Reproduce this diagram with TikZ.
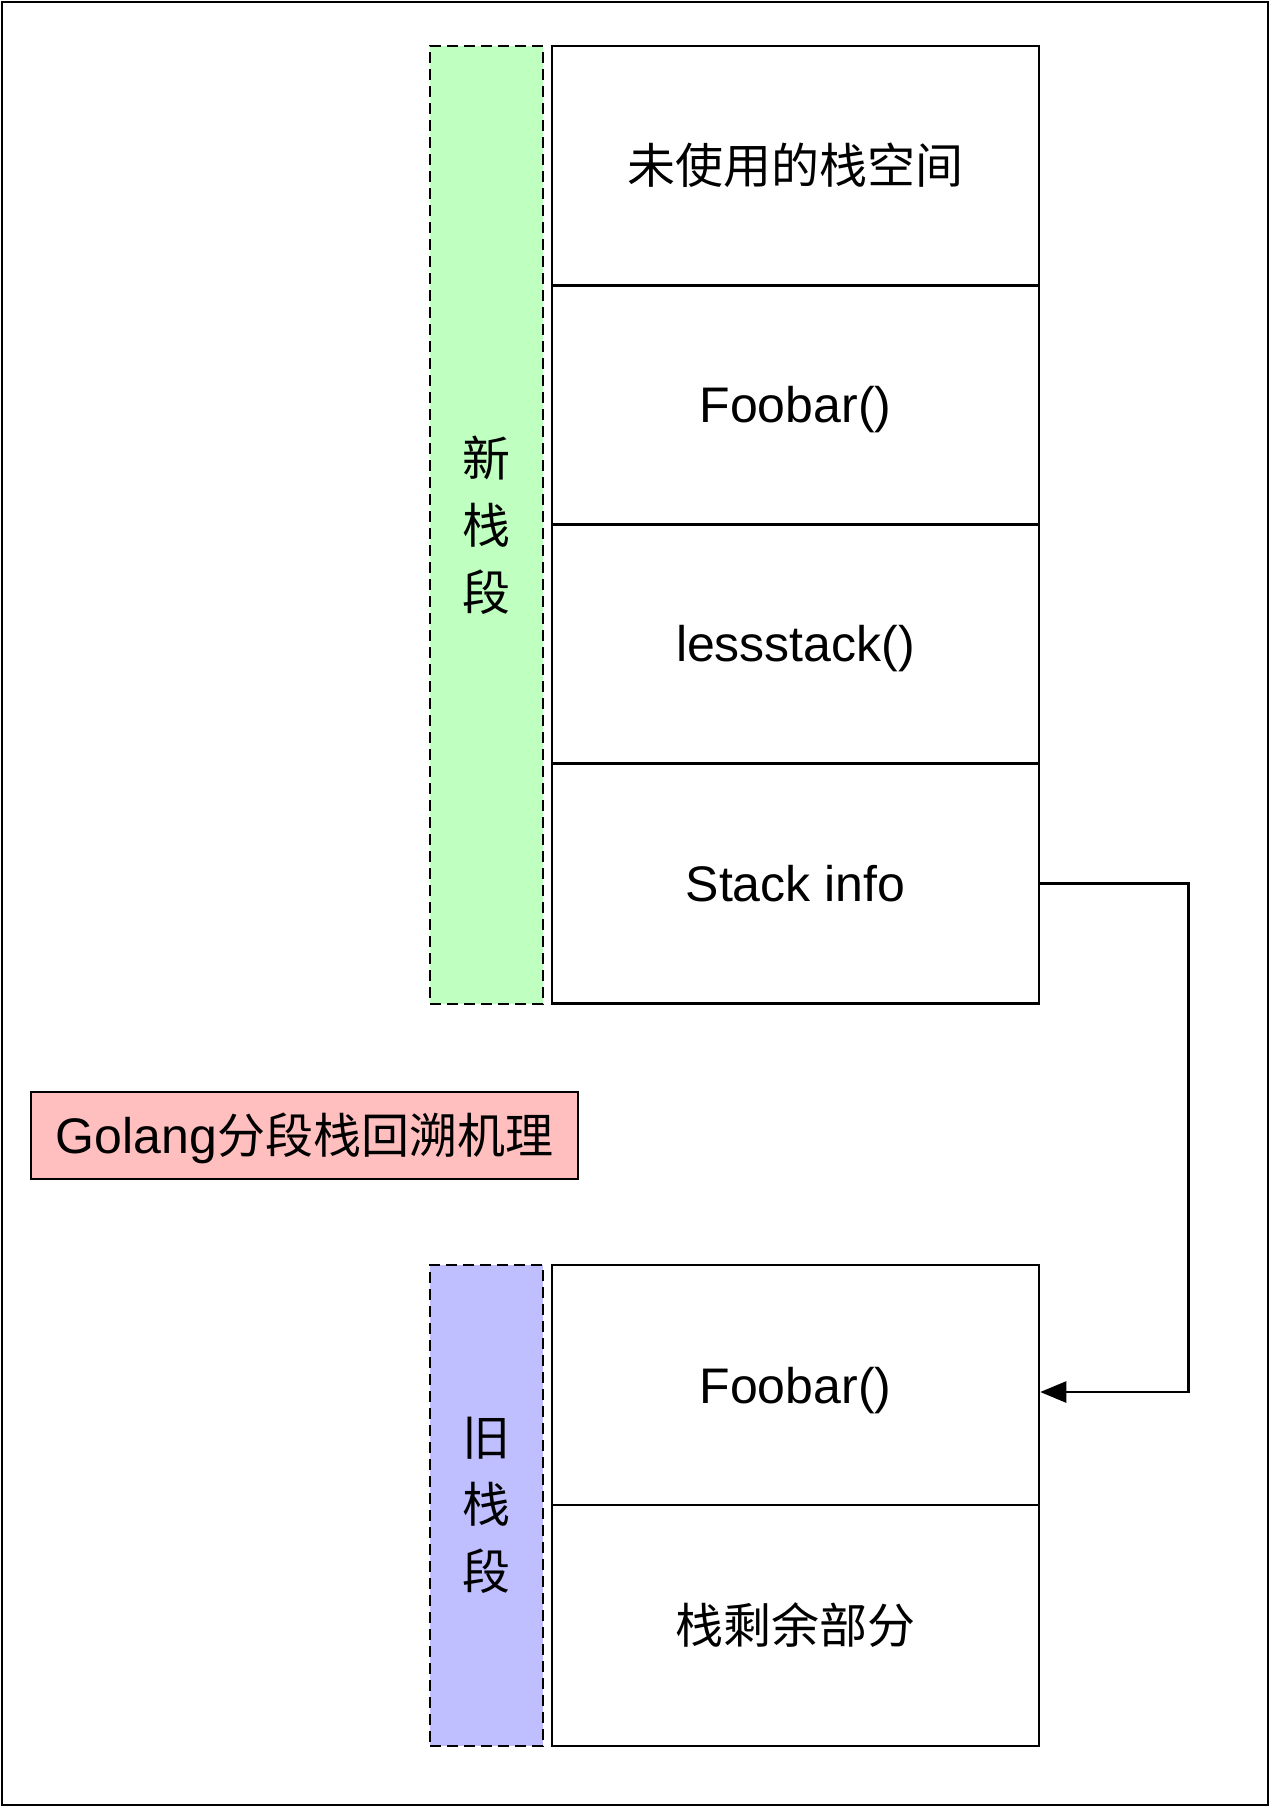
\documentclass[tikz,border=0pt]{standalone}
\usepackage{fontspec}
\setmainfont{Liberation Sans}
\newfontfamily\cjk{Noto Sans CJK SC}[Scale=0.96]
\usepackage{tikz}
\usetikzlibrary{arrows.meta}
\definecolor{newseg}{RGB}{191,255,191}
\definecolor{oldseg}{RGB}{191,191,255}
\definecolor{titlebg}{RGB}{255,191,191}
\newcommand{\cellfont}{\fontsize{50}{60}\selectfont}
\begin{document}
\begin{tikzpicture}[line join=miter,>={Triangle[length=26pt,width=21pt]},x=1pt,y=1pt,
		cell/.style={draw,line width=2.5pt,minimum width=487pt,minimum height=239.5pt,inner sep=0pt,text height=36pt,text depth=0pt,font=\cellfont},
		seg/.style={draw,line width=2.5pt,dash pattern=on 11pt off 6pt,minimum width=113pt,inner sep=0pt,align=center,font=\fontsize{50}{67}\selectfont\cjk}]
		\useasboundingbox (0,0) rectangle (1271,-1808);
		\draw[line width=2.5pt] (2,-2) rectangle (1268,-1805);
		\node[seg,fill=newseg,minimum height=958pt] (newseg) at (486.5,-525) {新\\栈\\段};
		\node[seg,fill=oldseg,minimum height=481pt] (oldseg) at (486.5,-1505.5) {旧\\栈\\段};
		\node[cell] (unused) at (795.5,-165.5) {\cjk 未使用的栈空间};
		\node[cell] (newfoo) at (795.5,-404.5) {Foobar()};
		\node[cell] (less) at (795.5,-643.5) {lessstack()};
		\node[cell] (info) at (795.5,-883.5) {Stack info};
		\node[cell,minimum height=240pt] (oldfoo) at (795.5,-1385) {Foobar()};
		\node[cell,minimum height=241pt] (rest) at (795.5,-1625.5) {\cjk 栈剩余部分};
		\node[draw,fill=titlebg,line width=2.5pt,minimum width=547pt,minimum height=87pt,inner sep=0pt,text height=36pt,text depth=0pt,font=\cellfont] (title) at (304.5,-1135.5) {Golang\cjk 分段栈回溯机理};
		\draw[->,line width=2.5pt] (info.east) -- ++(148,0) |- ([yshift=-7pt]oldfoo.east);
\end{tikzpicture}
\end{document}
